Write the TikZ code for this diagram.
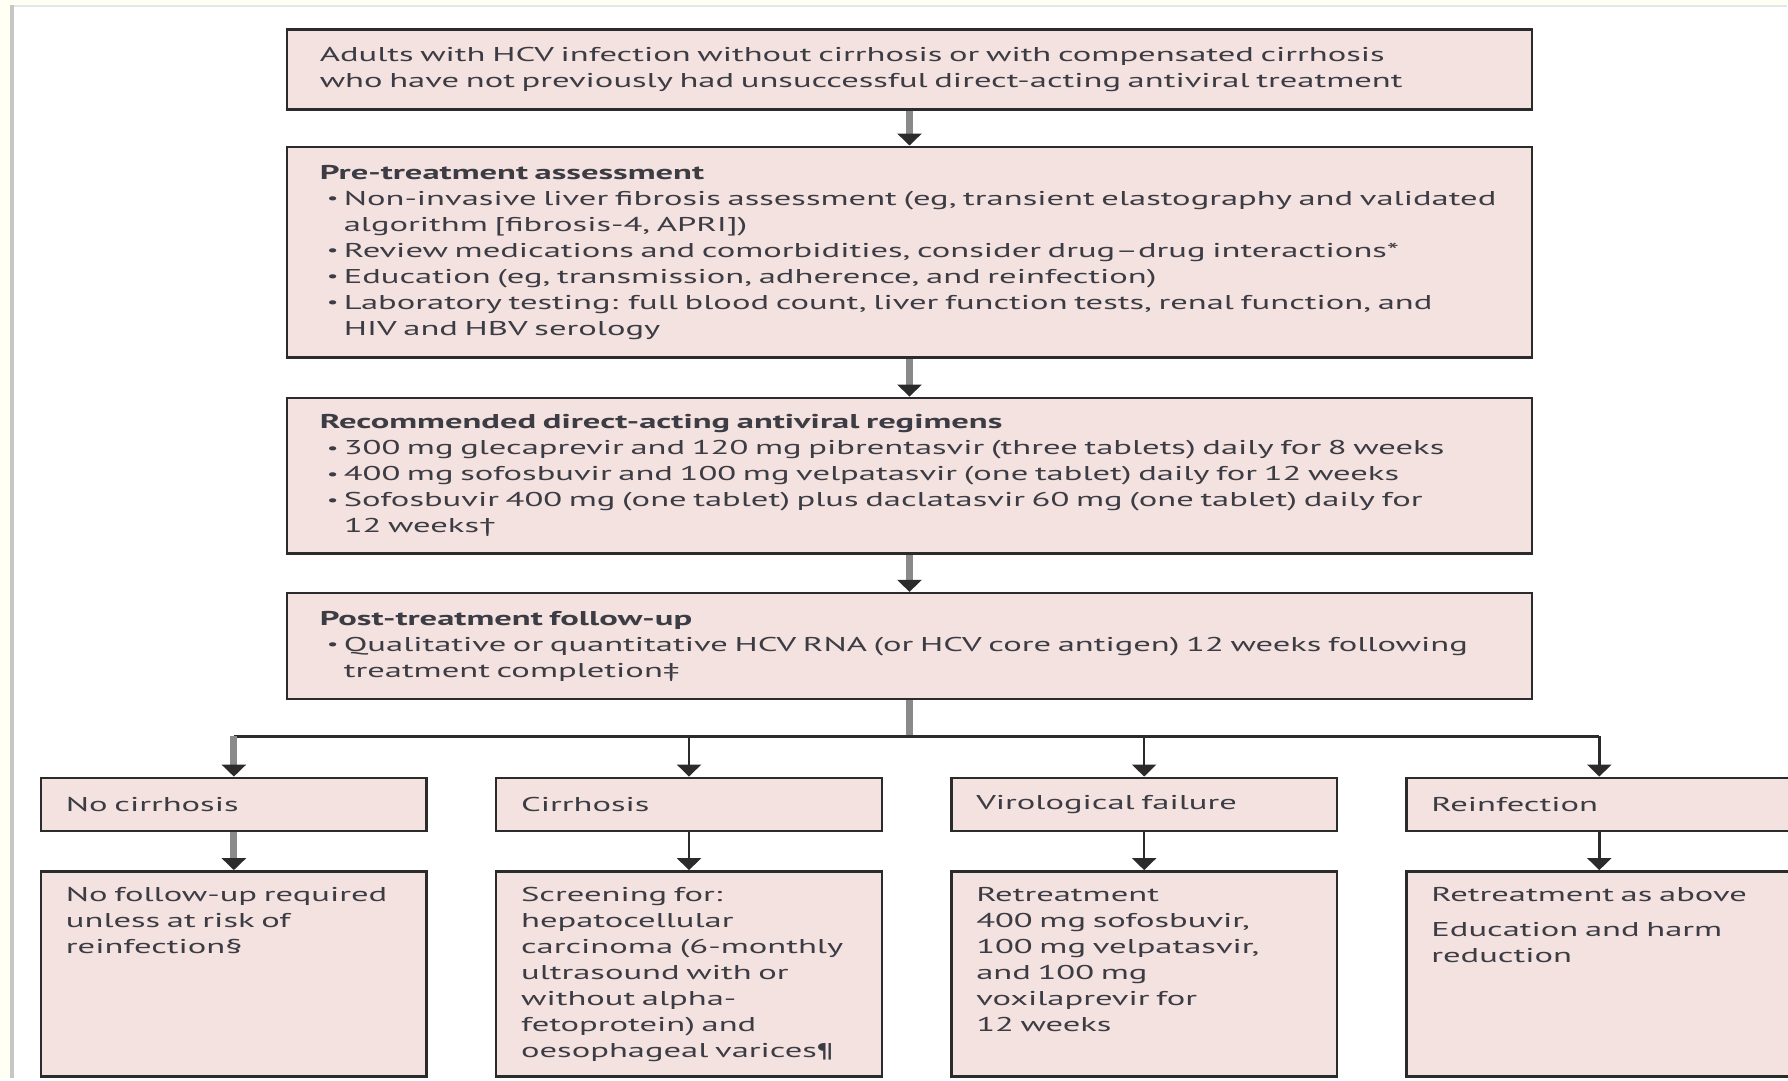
\documentclass[tikz,border=0pt]{standalone}
\usepackage{fontspec}
\usepackage{graphicx}
\setmainfont{PT Sans}[FakeStretch=1.73]
\usetikzlibrary{positioning,arrows.meta,calc}
\definecolor{BoxFill}{HTML}{F4E2E0}
\definecolor{BoxLine}{HTML}{2B2B2B}
\definecolor{TextGrey}{HTML}{3C3C44}
\definecolor{StemGrey}{HTML}{8A8A8A}
\definecolor{PageCream}{HTML}{FFFFF3}
\definecolor{FrameGrey}{HTML}{C6C6C6}
\definecolor{FrameTint}{HTML}{DFE9E5}
\newcommand{\bitem}{\hspace*{3.5pt}\makebox[8.5pt][l]{\raisebox{0.8pt}{\scalebox{0.75}{\textbullet}}}}
\newcommand{\bskip}{\hspace*{12pt}}

\begin{document}
\begin{tikzpicture}[
    x=1pt, y=1pt,
    box/.style={draw=BoxLine, fill=BoxFill, line width=1.3pt,
        minimum width=623pt, text width=590pt, inner xsep=16.5pt, inner ysep=0pt,
        align=left, text=TextGrey, font=\fontsize{10}{13}\selectfont},
    pick/.style={box, minimum width=193pt, text width=168pt, inner xsep=12.5pt,
        minimum height=26.5pt},
    detail/.style={pick, minimum height=0pt, inner ysep=8pt,
        text height=7pt, text depth=79.5pt},
    flow/.style={draw=StemGrey, line width=3.5pt,
        -{Triangle[width=12pt,length=6pt,color=BoxLine]}},
    link/.style={draw=BoxLine, line width=1.2pt,
        -{Triangle[width=12pt,length=6pt]}}
    ]
    % page frame
    \fill[PageCream] (0,0) rectangle (894,-539.5);
    \fill[white] (6,-3) rectangle (894,-539.5);
    \draw[FrameTint, line width=1pt] (5,-3) -- (894,-3);
    \draw[FrameGrey, line width=2pt] (6,-2.5) -- (6,-539.5);
    \useasboundingbox (0,0) rectangle (894,-539.5);

    % main column
    \node[box, minimum height=40pt, anchor=north] (adults) at (455,-14)
        {Adults with HCV infection without cirrhosis or with compensated cirrhosis\\
        who have not previously had unsuccessful direct-acting antiviral treatment};
    \node[box, minimum height=105.5pt, below=17.5pt of adults] (pretreat)
        {\textbf{Pre-treatment assessment}\\
        \bitem Non-invasive liver fibrosis assessment (eg, transient elastography and validated\\
        \bskip algorithm [fibrosis-4, APRI])\\
        \bitem Review medications and comorbidities, consider drug--drug interactions*\\
        \bitem Education (eg, transmission, adherence, and reinfection)\\
        \bitem Laboratory testing: full blood count, liver function tests, renal function, and\\
        \bskip HIV and HBV serology};
    \node[box, minimum height=78pt, below=18.8pt of pretreat] (regimen)
        {\textbf{Recommended direct-acting antiviral regimens}\\
        \bitem 300 mg glecaprevir and 120 mg pibrentasvir (three tablets) daily for 8 weeks\\
        \bitem 400 mg sofosbuvir and 100 mg velpatasvir (one tablet) daily for 12 weeks\\
        \bitem Sofosbuvir 400 mg (one tablet) plus daclatasvir 60 mg (one tablet) daily for\\
        \bskip 12 weeks\dag};
    \node[box, minimum height=53pt, below=18.4pt of regimen] (posttreat)
        {\textbf{Post-treatment follow-up}\\
        \bitem Qualitative or quantitative HCV RNA (or HCV core antigen) 12 weeks following\\
        \bskip treatment completion\ddag};
    \coordinate[below=18pt of posttreat] (split);

    % outcome row
    \node[pick, anchor=north] (nocirr) at (117,-388.5) {No cirrhosis};
    \node[pick, right=33.4pt of nocirr] (cirr) {Cirrhosis};
    \node[pick, right=33.4pt of cirr] (virfail) {Virological failure};
    \node[pick, right=33.4pt of virfail] (reinf) {Reinfection};

    % what follows each outcome
    \node[detail, below=19pt of nocirr] (nofollow)
        {No follow-up required\\ unless at risk of\\ reinfection\S};
    \node[detail, below=19pt of cirr] (screen)
        {Screening for:\\ hepatocellular\\ carcinoma (6-monthly\\ ultrasound with or\\
        without alpha-\\ fetoprotein) and\\ oesophageal varices\P};
    \node[detail, below=19pt of virfail] (retreat)
        {Retreatment\\ 400 mg sofosbuvir,\\ 100 mg velpatasvir,\\ and 100 mg\\
        voxilaprevir for\\ 12 weeks};
    \node[detail, below=19pt of reinf] (again)
        {Retreatment as above\\[4.5pt] Education and harm\\ reduction};

    % connectors
    \draw[flow] (adults) -- (pretreat);
    \draw[flow] (pretreat) -- (regimen);
    \draw[flow] (regimen) -- (posttreat);
    \draw[flow, -] (posttreat) -- (split);
    \draw[BoxLine, line width=1.2pt] (split -| nocirr) -- (split -| reinf);
    \draw[flow] (split -| nocirr) -- (nocirr);
    \foreach \n in {cirr, virfail, reinf}
        \draw[link] (split -| \n) -- (\n);
    \draw[flow] (nocirr) -- (nofollow);
    \foreach \a/\b in {cirr/screen, virfail/retreat, reinf/again}
        \draw[link] (\a) -- (\b);
\end{tikzpicture}
\end{document}
